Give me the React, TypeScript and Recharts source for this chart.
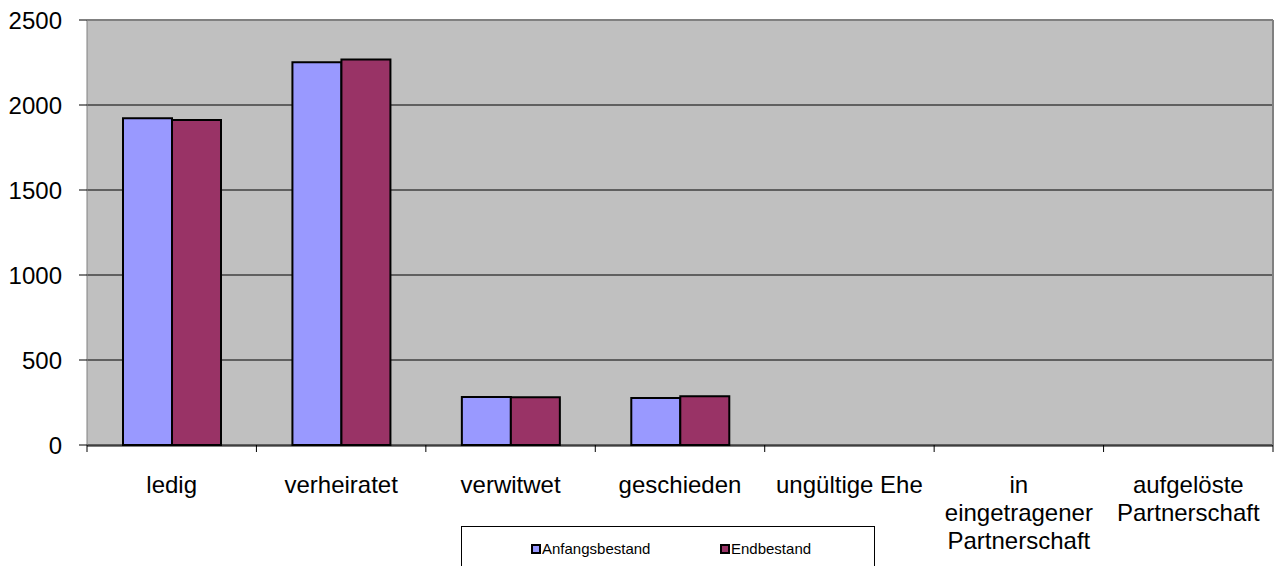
import React from 'react';
import { BarChart, Bar, XAxis, YAxis, CartesianGrid, Legend, ReferenceLine } from 'recharts';

const categories = ['ledig', 'verheiratet', 'verwitwet', 'geschieden', 'ungültige Ehe', 'in eingetragener Partnerschaft', 'aufgelöste Partnerschaft'];
const categoryLines = [['ledig'], ['verheiratet'], ['verwitwet'], ['geschieden'], ['ungültige Ehe'], ['in', 'eingetragener', 'Partnerschaft'], ['aufgelöste', 'Partnerschaft']];
const anfangsbestand = [1922, 2252, 282, 276, 0, 0, 0];
const endbestand = [1912, 2268, 281, 287, 0, 0, 0];
const yTicks = [0, 500, 1000, 1500, 2000, 2500];
const boundaryTicks = [0, 1, 2, 3, 4, 5, 6, 7];

const data = categories.map((c, i) => ({
  name: c,
  idx: i + 0.5,
  Anfangsbestand: anfangsbestand[i],
  Endbestand: endbestand[i],
}));

const font = 'Arial, "Liberation Sans", sans-serif';

const CategoryTick = (props: any) => {
  const { x, y, payload } = props;
  const lines = categoryLines[payload.index] ?? [payload.value];
  return (
    <text x={x} y={y} textAnchor="middle" fill="#000" fontSize={24} fontFamily={font}>
      {lines.map((l: string, i: number) => (
        <tspan key={i} x={x} dy={i === 0 ? 39 : 28}>{l}</tspan>
      ))}
    </text>
  );
};

const EmptyTick = () => <g />;

const LegendBox = () => (
  <div style={{ position: 'absolute', left: 461, top: 526, width: 412, height: 50, border: '1px solid #000', background: '#fff', fontFamily: font, fontSize: 15, color: '#000' }}>
    <div style={{ position: 'absolute', left: 69, top: 13, display: 'flex', alignItems: 'center' }}>
      <span style={{ width: 6, height: 6, background: '#9999FF', border: '2px solid #000', marginRight: 1 }} />
      <span>Anfangsbestand</span>
    </div>
    <div style={{ position: 'absolute', left: 258, top: 13, display: 'flex', alignItems: 'center' }}>
      <span style={{ width: 6, height: 6, background: '#993366', border: '2px solid #000', marginRight: 1 }} />
      <span>Endbestand</span>
    </div>
  </div>
);

export default function App() {
  return (
    <div style={{ position: 'absolute', left: 0, top: 0, width: 1275, height: 566, overflow: 'hidden', background: '#fff' }}>
      <BarChart width={1275} height={566} data={data} margin={{ top: 20, right: 1, left: 0, bottom: 0 }} barGap={0} barSize={49}>
        <CartesianGrid vertical={false} stroke="#000" fill="#c0c0c0" fillOpacity={1} />
        <XAxis xAxisId="bnd" type="number" dataKey="idx" domain={[0, 7]} ticks={boundaryTicks} height={1} axisLine={false} tickLine={{ stroke: '#000' }} tickSize={7} tick={<EmptyTick />} interval={0} />
        <XAxis xAxisId="cat" dataKey="name" height={120} axisLine={{ stroke: '#000' }} tickLine={false} tick={<CategoryTick />} interval={0} />
        <YAxis domain={[0, 2500]} ticks={yTicks} width={87} axisLine={{ stroke: '#808080' }} tickLine={{ stroke: '#000' }} tickSize={8} tickMargin={17} tick={{ fill: '#000', fontSize: 24, fontFamily: font }} interval={0} />
        <YAxis yAxisId="r" orientation="right" width={1} tick={false} tickLine={false} axisLine={{ stroke: '#808080', strokeWidth: 2 }} />
        <ReferenceLine xAxisId="cat" y={2500} stroke="#808080" strokeWidth={2} />
        <Bar xAxisId="cat" dataKey="Anfangsbestand" fill="#9999FF" stroke="#000" strokeWidth={2} isAnimationActive={false} />
        <Bar xAxisId="cat" dataKey="Endbestand" fill="#993366" stroke="#000" strokeWidth={2} isAnimationActive={false} />
        <Legend content={() => null} />
      </BarChart>
      <LegendBox />
    </div>
  );
}
